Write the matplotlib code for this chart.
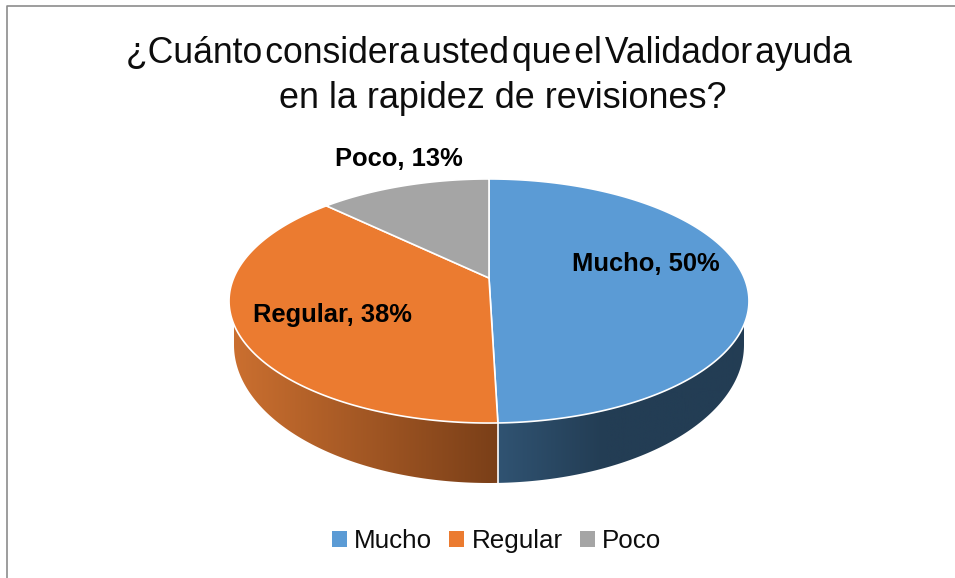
import numpy as np
import matplotlib
matplotlib.use('Agg')
from matplotlib import pyplot as plt
from matplotlib.colors import LinearSegmentedColormap
from matplotlib.patches import Patch, Polygon

categories = ['Mucho', 'Regular', 'Poco']
values = [49.55, 37.65, 12.8]
colors = ['#5B9BD5', '#EB7B30', '#A5A5A5']
title_lines = ['¿Cuánto\u200aconsidera\u200austed\u200aque\u200ael\u200aValidador\u200aayuda',
               'en la rapidez de revisiones?']

plt.rcParams['font.family'] = ['Liberation Sans', 'DejaVu Sans']

fig = plt.figure(figsize=(9.55, 5.78), dpi=100)
ax = fig.add_axes([0, 0, 1, 1])

# pie seen in perspective: apex sits above the middle of the ellipse
cx, apex_y = 489, 278
k, a, b = 0.1885, 117.7, 255.3

def project(theta):
    v = np.cos(theta)
    w = 1 + k * v
    return cx + b * np.sin(theta) / w, apex_y - a * v / w

edges = np.radians(np.cumsum([0] + values) * 3.6)
split_x = project(edges[1])[0]

# side wall, lower rim is a slightly narrower ellipse
t = np.linspace(np.pi, 0, 200)
wall = np.column_stack((489 + 255 * np.cos(t), 345 + 138 * np.sin(t)))
wall = np.vstack(([234, 300], wall, [744, 300]))
wall_patch = Polygon(wall, closed=True, transform=ax.transData, fc='none', ec='none')
ax.add_patch(wall_patch)

orange_side = LinearSegmentedColormap.from_list('o', ['#CC7030', '#7A3F18'])
blue_side = LinearSegmentedColormap.from_list('b', [(0, '#305372'), (0.42, '#233D54'), (1, '#233D54')])
grad = np.linspace(0, 1, 256).reshape(1, -1)
im1 = ax.imshow(grad, cmap=orange_side, extent=(229, split_x, 490, 290), aspect='auto', zorder=1)
im2 = ax.imshow(grad, cmap=blue_side, extent=(split_x, 749, 490, 290), aspect='auto', zorder=1)
im1.set_clip_path(wall_patch)
im2.set_clip_path(wall_patch)
ax.plot([split_x, split_x], [420, 483], color='white', lw=1.2, zorder=1.5)

# top face
for i in range(len(values)):
    th = np.linspace(edges[i], edges[i + 1], 200)
    x, y = project(th)
    pts = np.column_stack((np.r_[cx, x], np.r_[apex_y, y]))
    ax.add_patch(Polygon(pts, closed=True, fc=colors[i], ec='white', lw=1.2, zorder=2))

# data labels
label_pos = [(645.5, 264), (332, 315), (398.5, 159)]
for name, val, pos in zip(categories, values, label_pos):
    ax.text(pos[0], pos[1], f'{name}, {round(val)}%', fontsize=18.4, fontweight='bold',
            ha='center', va='center', color='black', zorder=3)

# title
ax.text(488.5, 63, title_lines[0], fontsize=25.6, ha='center', va='baseline', color='#0d0d0d')
ax.text(502.5, 108, title_lines[1], fontsize=25.9, ha='center', va='baseline', color='#0d0d0d')

# chart frame, only top and left show in the crop
ax.plot([7, 7, 955], [578, 6, 6], color='#8c8c8c', lw=1.2, zorder=0)

handles = [Patch(fc=c, ec='none') for c in colors]
ax.legend(handles, categories, ncol=3, frameon=False, fontsize=18.7, loc='center',
          bbox_to_anchor=(496.5, 541), bbox_transform=ax.transData,
          handlelength=0.58, handleheight=0.58, handletextpad=0.27, columnspacing=0.66,
          borderpad=0, labelcolor='#0d0d0d')

ax.set_xlim(0, 955)
ax.set_ylim(578, 0)
ax.axis('off')
fig.savefig('out.png', dpi=100)
